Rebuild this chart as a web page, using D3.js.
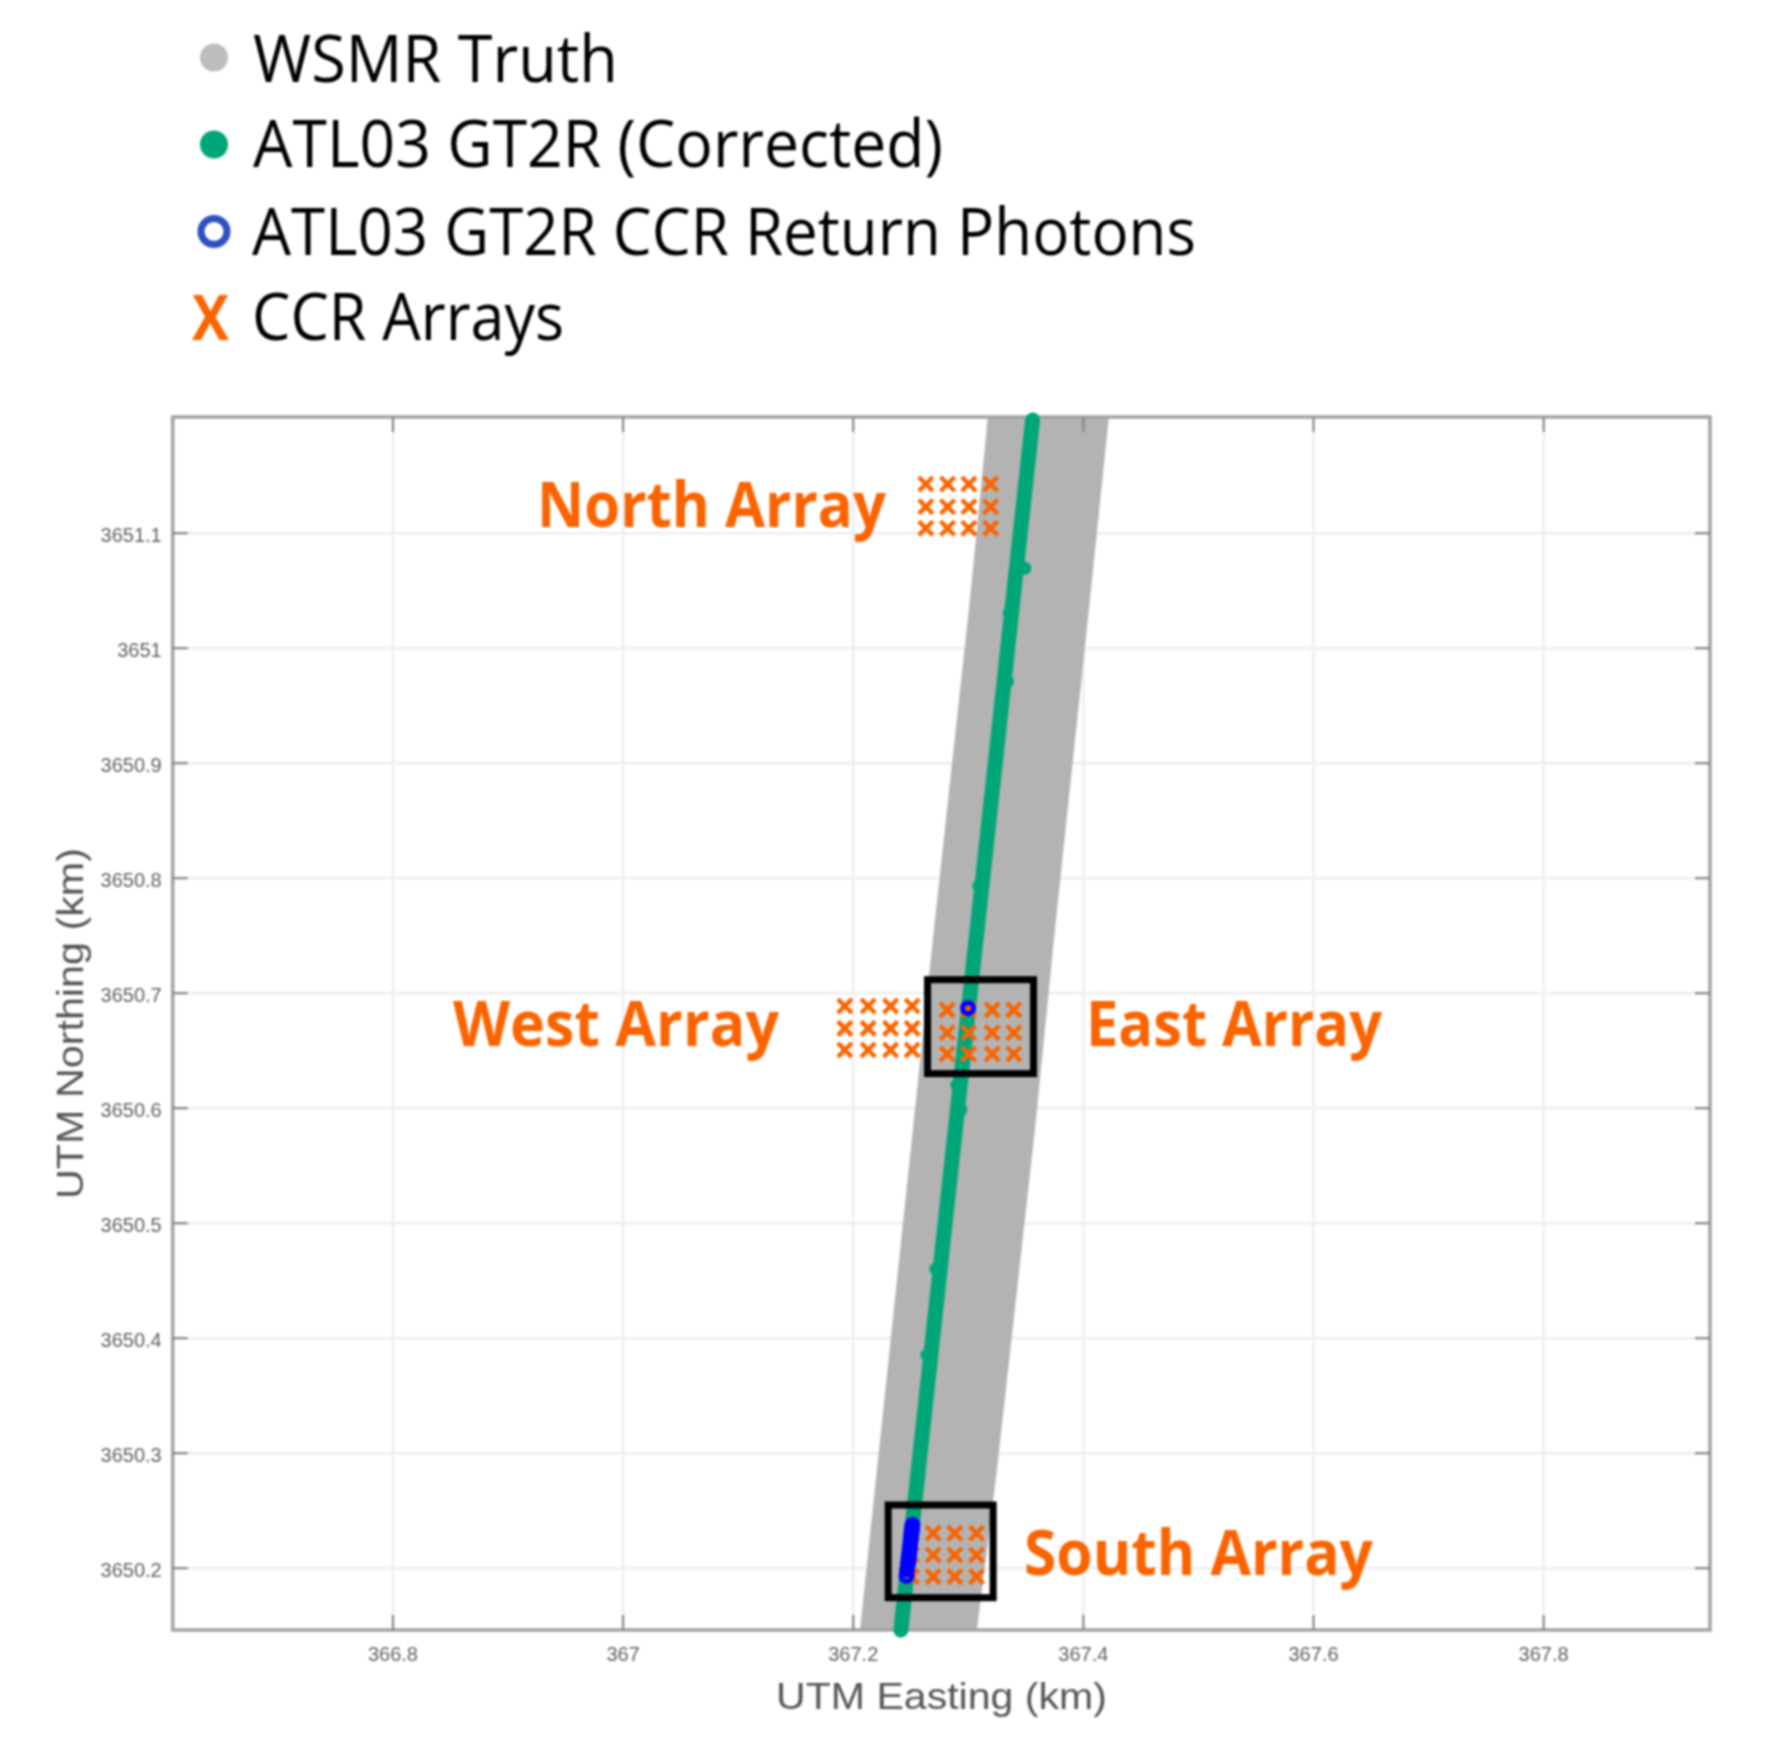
<!DOCTYPE html>
<html><head><meta charset="utf-8">
<script src="https://cdn.jsdelivr.net/npm/d3@7"></script>
<style>
html,body{margin:0;padding:0;background:#fff}
svg{display:block;filter:blur(0.9px)}
</style></head><body>
<svg id="c" width="1781" height="1763"></svg>
<script>
const xTicks=[366.8,367,367.2,367.4,367.6,367.8];
const yTicks=[3650.2,3650.3,3650.4,3650.5,3650.6,3650.7,3650.8,3650.9,3651,3651.1];
const xDomain=[366.6090,367.9450];
const yDomain=[3650.1458,3651.2006];

const truthLeftE=[367.2063,367.2522,367.2705,367.3018,367.3174];
const truthLeftN=[3650.1458,3650.5805,3650.7544,3651.0415,3651.2006];
const truthRightE=[367.3079,367.3253,367.3583,367.3757,367.4061,367.4226];
const truthRightN=[3650.1458,3650.2850,3650.5805,3650.7544,3651.0415,3651.2006];

const trackE=[367.2418,367.2586,367.2695,367.2803,367.2912,367.3021,367.3130,367.3239,367.3347,367.3456,367.3563];
const trackN=[3650.1458,3650.3,3650.4,3650.5,3650.6,3650.7,3650.8,3650.9,3651,3651.1,3651.198];
const strayE=[367.2643,367.2722,367.2904,367.2939,367.3095,367.3345,367.3360,367.3495];
const strayN=[3650.3849,3650.4597,3650.6197,3650.5979,3650.7928,3650.9706,3651.03,3651.069];

const photonE=[367.2467,367.2472,367.2480,367.2485,367.2489,367.2493,367.2497,367.2500,367.2504,367.2507,367.2510,367.2513,367.2516,367.2519,367.3002];
const photonN=[3650.1928,3650.1985,3650.2035,3650.2070,3650.2105,3650.2140,3650.2175,3650.2210,3650.2240,3650.2270,3650.2295,3650.2320,3650.2345,3650.2371,3650.6865];

const arrayNames=["North","West","East","South"];
const arrayE=[[367.2635,367.2824,367.3009,367.3198],[367.1931,367.2134,367.2329,367.2516],[367.2821,367.3007,367.3212,367.3400],[367.2511,367.2699,367.2887,367.3076]];
const arrayN=[[3651.1423,3651.1226,3651.1038],[3650.6884,3650.6690,3650.6502],[3650.6850,3650.6652,3650.6467],[3650.2299,3650.2110,3650.1922]];

const boxE=[[367.2650,367.3571],[367.2308,367.3220]];
const boxN=[[3650.7113,3650.6296],[3650.2545,3650.1739]];

const legendLabels=["WSMR Truth","ATL03 GT2R (Corrected)","ATL03 GT2R CCR Return Photons","CCR Arrays"];
const annotations=["North Array","West Array","East Array","South Array"];

const L=172.7,R=1710,T=417,B=1630;
const GRAY="#b3b3b3",GREEN="#00a678",BLUE="#0000ff",ORANGE="#f96400";
const svg=d3.select("#c");
const x=d3.scaleLinear().domain(xDomain).range([L,R]);
const y=d3.scaleLinear().domain(yDomain).range([B,T]);
const W=R-L,H=B-T;

// grid
const gridX=svg.append("g").attr("transform",`translate(0,${B})`).call(d3.axisBottom(x).tickValues(xTicks).tickSize(-H).tickFormat(""));
const gridY=svg.append("g").attr("transform",`translate(${L},0)`).call(d3.axisLeft(y).tickValues(yTicks).tickSize(-W).tickFormat(""));
[gridX,gridY].forEach(g=>{g.select(".domain").remove();g.selectAll("line").attr("stroke","#f0f0f0").attr("stroke-width",3);});

// truth band
const band=[...truthLeftE.map((e,i)=>[e,truthLeftN[i]]),...truthRightE.map((e,i)=>[e,truthRightN[i]]).reverse()];
svg.append("path").attr("d",d3.line().x(d=>x(d[0])).y(d=>y(d[1]))(band)+"Z").attr("fill",GRAY);

// frame + ticks
svg.append("rect").attr("x",L).attr("y",T).attr("width",W).attr("height",H).attr("fill","none").attr("stroke","#a2a2a2").attr("stroke-width",3.5);
const fmt=d=>String(+d.toFixed(1));
const ax=(g)=>{g.select(".domain").remove();g.selectAll("line").attr("stroke","#808080").attr("stroke-width",2);
  g.selectAll("text").attr("font-family","'Liberation Sans',Arial,sans-serif").attr("font-size",20).attr("fill","#606060");};
const bottom=svg.append("g").attr("transform",`translate(0,${B})`).call(d3.axisBottom(x).tickValues(xTicks).tickSize(-15).tickPadding(16).tickFormat(fmt)).call(ax);
bottom.selectAll("text").attr("dy",0).attr("y",30.5);
const left=svg.append("g").attr("transform",`translate(${L},0)`).call(d3.axisLeft(y).tickValues(yTicks).tickSize(-15).tickPadding(11).tickFormat(fmt)).call(ax);
left.selectAll("text").attr("dy",0).attr("y",8.5);
svg.append("g").attr("transform",`translate(0,${T})`).call(d3.axisTop(x).tickValues(xTicks).tickSize(-15).tickFormat("")).call(ax);
svg.append("g").attr("transform",`translate(${R},0)`).call(d3.axisRight(y).tickValues(yTicks).tickSize(-15).tickFormat("")).call(ax);

// track
svg.append("path").datum(trackE.map((e,i)=>[e,trackN[i]]))
  .attr("d",d3.line().x(d=>x(d[0])).y(d=>y(d[1]))).attr("fill","none")
  .attr("stroke",GREEN).attr("stroke-width",15).attr("stroke-linecap","round");
svg.append("g").selectAll("circle").data(strayE).join("circle")
  .attr("cx",d=>x(d)).attr("cy",(d,i)=>y(strayN[i])).attr("r",6.5).attr("fill",GREEN);

// crosses
const S=7;
arrayE.forEach((es,a)=>{
  const g=svg.append("g").attr("data-array",arrayNames[a]);
  arrayN[a].forEach(n=>es.forEach(e=>{
    g.append("path").attr("transform",`translate(${x(e)},${y(n)})`)
     .attr("d",`M${-S},${-S}L${S},${S}M${-S},${S}L${S},${-S}`)
     .attr("stroke",ORANGE).attr("stroke-width",4.4).attr("fill","none");
  }));
});

// photons
svg.append("g").selectAll("circle").data(photonE).join("circle")
  .attr("cx",d=>x(d)).attr("cy",(d,i)=>y(photonN[i])).attr("r",5.5)
  .attr("fill","none").attr("stroke",BLUE).attr("stroke-width",5);

// boxes
boxE.forEach((b,i)=>{
  svg.append("rect").attr("x",x(b[0])).attr("y",y(boxN[i][0]))
    .attr("width",x(b[1])-x(b[0])).attr("height",y(boxN[i][1])-y(boxN[i][0]))
    .attr("fill","none").attr("stroke","#000").attr("stroke-width",7);
});

// axis titles
svg.append("text").attr("x",776).attr("y",1709).attr("font-family","'Liberation Sans',Arial,sans-serif")
  .attr("font-size",37).attr("fill","#555").attr("textLength",331).attr("lengthAdjust","spacingAndGlyphs").text("UTM Easting (km)");
svg.append("text").attr("transform","translate(83,1199) rotate(-90)").attr("font-family","'Liberation Sans',Arial,sans-serif")
  .attr("font-size",37).attr("fill","#555").attr("textLength",351).attr("lengthAdjust","spacingAndGlyphs").text("UTM Northing (km)");

// annotations
const annoX=[537,453,1086,1024],annoW=[349,326,296,349],annoY=[527,1046,1046,1575];
annotations.forEach((t,i)=>{
  svg.append("text").attr("x",annoX[i]).attr("y",annoY[i]).attr("font-family","'Open Sans',sans-serif")
    .attr("font-weight",700).attr("font-size",62).attr("fill",ORANGE)
    .attr("textLength",annoW[i]).attr("lengthAdjust","spacingAndGlyphs").text(t);
});

// legend
const legY=[82,167,255,340],legX=[253,253,252,252],legW=[365,690,944,312];
legendLabels.forEach((t,i)=>{
  svg.append("text").attr("x",legX[i]).attr("y",legY[i]).attr("font-family","'Open Sans',sans-serif")
    .attr("font-size",65).attr("fill","#000").attr("textLength",legW[i]).attr("lengthAdjust","spacingAndGlyphs").text(t);
});
svg.append("circle").attr("cx",214).attr("cy",57.5).attr("r",14).attr("fill","#bdbdbd");
svg.append("circle").attr("cx",214).attr("cy",144.5).attr("r",14).attr("fill",GREEN);
svg.append("circle").attr("cx",214).attr("cy",231.5).attr("r",13).attr("fill","none").attr("stroke","#2f4fbf").attr("stroke-width",7);
svg.append("text").attr("x",192).attr("y",340).attr("font-family","'Open Sans',sans-serif").attr("font-weight",700)
  .attr("font-size",63).attr("fill",ORANGE).attr("textLength",37).attr("lengthAdjust","spacingAndGlyphs").text("X");
</script></body></html>
